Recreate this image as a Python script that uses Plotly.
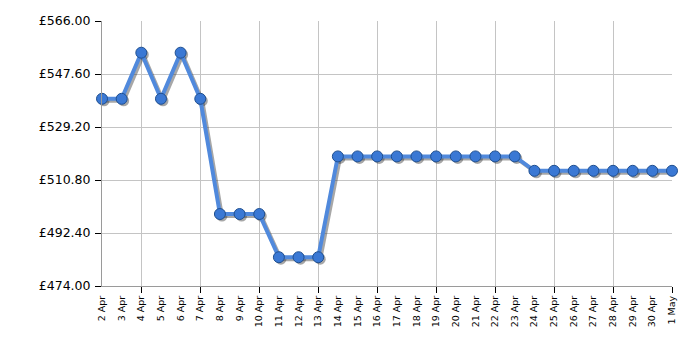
import plotly.graph_objects as go
import pandas as pd

dates = pd.date_range("2024-04-02", "2024-05-01", freq="D")
day_labels = [f"{d.day} {d.strftime('%b')}" for d in dates]
prices = [538.99, 538.99, 554.99, 538.99, 554.99, 538.99, 498.99, 498.99, 498.99,
          483.99, 483.99, 483.99, 518.99, 518.99, 518.99, 518.99, 518.99, 518.99,
          518.99, 518.99, 518.99, 518.99, 513.99, 513.99, 513.99, 513.99, 513.99,
          513.99, 513.99, 513.99]
y_ticks = [474.00, 492.40, 510.80, 529.20, 547.60, 566.00]
y_ticktext = [f"£{v:.2f}" for v in y_ticks]

x0, x1 = dates[0], dates[-1]
ymin, ymax = 474.0, 566.0
px_per_day = 569.3 / 29
px_per_unit = 264.5 / 92
shift = pd.Timedelta(days=2.0 / px_per_day)
yshift = 2.0 / px_per_unit

grid_dates = dates[2::3]

fig = go.Figure()
# invisible host trace for the base axes
fig.add_trace(go.Scatter(
    x=dates, y=prices, xaxis="x", yaxis="y", mode="lines",
    line=dict(color="rgba(0,0,0,0)", width=0), hoverinfo="skip", showlegend=False))
# shadow
fig.add_trace(go.Scatter(
    x=dates, y=prices, xaxis="x2", yaxis="y2", mode="lines+markers",
    line=dict(color="rgba(60,60,60,0.45)", width=4),
    marker=dict(size=11, color="rgba(60,60,60,0.45)"),
    cliponaxis=False, hoverinfo="skip", showlegend=False))
# main
fig.add_trace(go.Scatter(
    x=dates, y=prices, xaxis="x3", yaxis="y3", mode="lines+markers",
    line=dict(color="#5089dc", width=4),
    marker=dict(size=11, color="#3a78d4", line=dict(color="#1f4f90", width=1)),
    cliponaxis=False, showlegend=False))

fig.update_layout(
    width=700, height=350,
    margin=dict(l=102, r=28, t=21, b=64),
    paper_bgcolor="white", plot_bgcolor="white",
    font=dict(family="DejaVu Sans, Verdana, sans-serif", color="black"),
    xaxis=dict(type="date", range=[x0, x1], tickmode="array", tickvals=list(grid_dates),
               showticklabels=False, ticks="outside", ticklen=6, tickcolor="black",
               showgrid=True, gridcolor="#c4c4c4", gridwidth=1,
               showline=True, linecolor="#9a9a9a", linewidth=1, zeroline=False),
    yaxis=dict(range=[ymin, ymax], tickmode="array", tickvals=y_ticks, ticktext=y_ticktext,
               ticks="outside", ticklen=6, tickcolor="black",
               tickfont=dict(size=12.5), ticklabelstandoff=2,
               showgrid=True, gridcolor="#c4c4c4", gridwidth=1,
               showline=True, linecolor="#9a9a9a", linewidth=1, zeroline=False),
    xaxis2=dict(type="date", overlaying="x", anchor="y2",
                range=[x0 - shift, x1 - shift], visible=False),
    yaxis2=dict(overlaying="y", anchor="x2", range=[ymin + yshift, ymax + yshift], visible=False),
    xaxis3=dict(type="date", overlaying="x", anchor="y3", range=[x0, x1], tickmode="array",
                tickvals=list(dates), ticktext=day_labels, tickangle=-90,
                tickfont=dict(size=9.5), ticks="outside", ticklen=5,
                tickcolor="rgba(0,0,0,0)", showgrid=False, zeroline=False, side="bottom"),
    yaxis3=dict(overlaying="y", anchor="x3", range=[ymin, ymax], visible=False),
)

fig.write_html("out.html")
